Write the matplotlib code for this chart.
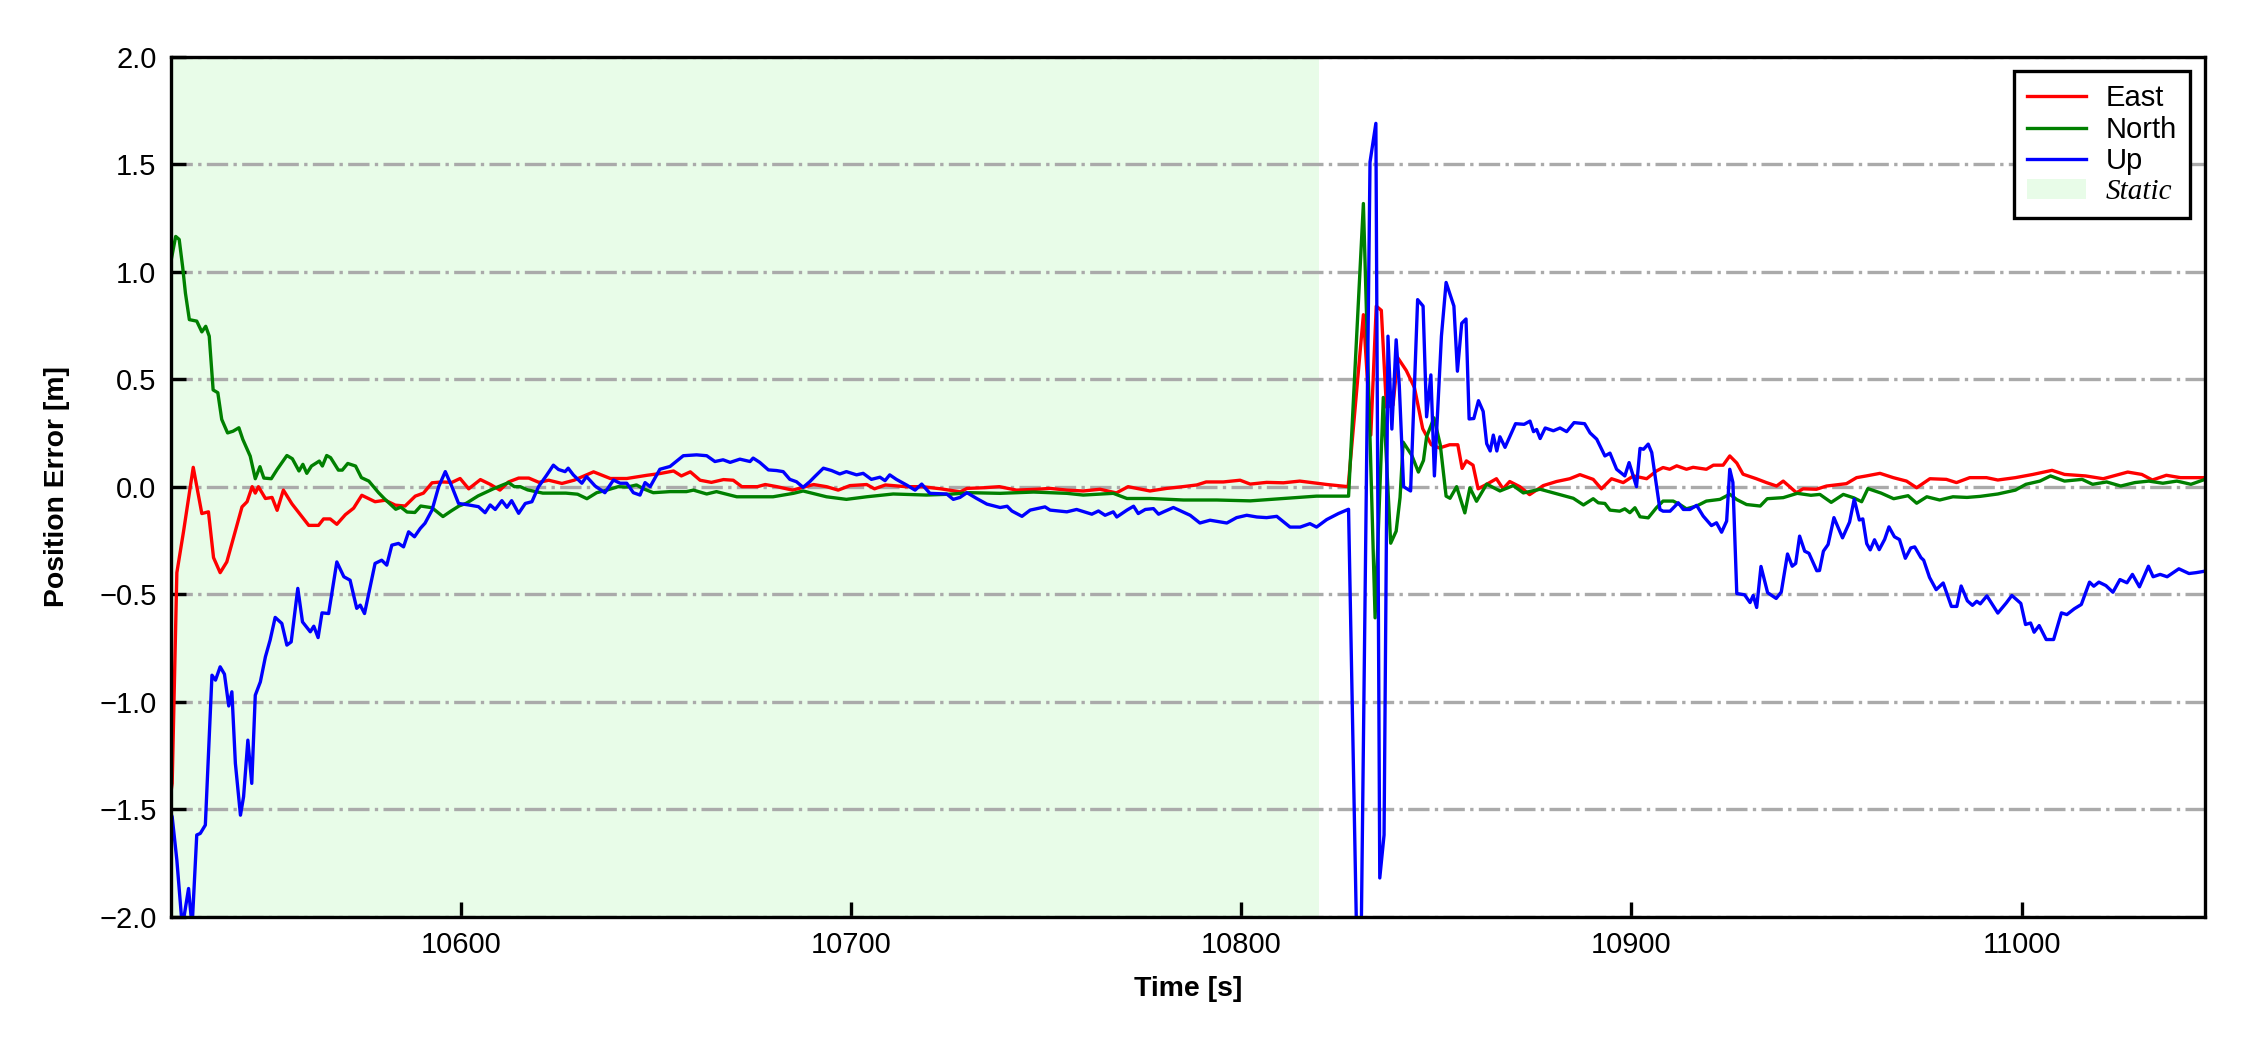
import numpy as np
import matplotlib
matplotlib.use('Agg')
import matplotlib.pyplot as plt
from matplotlib.patches import Patch

plt.rcParams['font.family'] = ['Liberation Sans', 'DejaVu Sans']
plt.rcParams['font.size'] = 7

# ---- data (time [s], error [m]) ----
east_t = [10525.7, 10526.0, 10527.2, 10528.9, 10531.4, 10533.6, 10535.3, 10536.6, 10538.3, 10540.0,
          10543.9, 10545.2, 10546.5, 10547.3, 10548.1, 10549.9, 10551.6, 10552.9, 10554.5, 10556.7,
          10559.3, 10561.0, 10563.5, 10564.8, 10566.5, 10568.2, 10570.4, 10572.5, 10574.6, 10578.0,
          10580.6, 10583.2, 10585.7, 10588.3, 10590.4, 10592.6, 10595.1, 10597.7, 10599.8, 10602.0,
          10605.0, 10607.6, 10610.0, 10612.2, 10614.8, 10617.4, 10620.0, 10622.5, 10625.9, 10629.0,
          10634.0, 10638.3, 10642.5, 10647.7, 10651.0, 10654.5, 10656.5, 10658.8, 10661.3, 10664.2,
          10667.3, 10669.8, 10672.0, 10676.0, 10678.0, 10681.0, 10685.0, 10690.4, 10693.7, 10696.7,
          10699.7, 10704.0, 10706.0, 10708.8, 10714.0, 10718.2, 10723.0, 10728.0, 10729.7, 10734.0,
          10738.0, 10742.4, 10747.6, 10751.0, 10755.3, 10759.5, 10763.8, 10768.0, 10771.0, 10776.6,
          10780.9, 10785.0, 10788.6, 10791.0, 10795.4, 10799.7, 10802.3, 10806.5, 10810.8, 10815.0,
          10822.0, 10827.4, 10831.3, 10833.2, 10834.6, 10835.9, 10837.2, 10838.9, 10840.1, 10842.3,
          10844.4, 10846.5, 10848.7, 10850.8, 10853.4, 10855.5, 10856.6, 10857.7, 10859.4, 10860.7,
          10862.8, 10865.4, 10867.1, 10868.8, 10871.4, 10873.9, 10877.4, 10880.8, 10884.2, 10886.8,
          10890.2, 10892.3, 10894.9, 10897.9, 10900.5, 10903.9, 10906.4, 10908.1, 10909.8, 10911.6,
          10914.1, 10915.8, 10919.2, 10921.0, 10923.5, 10925.2, 10927.0, 10928.6, 10932.0, 10934.6,
          10937.2, 10938.9, 10942.3, 10944.0, 10947.4, 10950.0, 10955.1, 10957.7, 10960.2, 10963.7,
          10967.1, 10970.5, 10973.1, 10976.5, 10980.7, 10983.3, 10986.7, 10991.0, 10993.9, 10998.4,
          11002.9, 11007.8, 11011.0, 11016.4, 11020.9, 11027.2, 11030.8, 11033.5, 11037.1, 11040.7,
          11047.0]
east_v = [-1.42, -1.38, -0.40, -0.21, 0.09, -0.125, -0.117, -0.33, -0.40, -0.35,
          -0.094, -0.07, 0.0, -0.03, 0.0, -0.055, -0.05, -0.11, -0.016, -0.08,
          -0.14, -0.18, -0.18, -0.15, -0.15, -0.175, -0.13, -0.10, -0.04, -0.07,
          -0.063, -0.086, -0.09, -0.044, -0.03, 0.018, 0.022, 0.02, 0.038, -0.01,
          0.033, 0.01, -0.016, 0.022, 0.04, 0.04, 0.02, 0.03, 0.015, 0.03,
          0.069, 0.038, 0.038, 0.053, 0.061, 0.073, 0.05, 0.069, 0.03, 0.02,
          0.033, 0.03, 0.0, 0.0, 0.01, 0.0, -0.016, 0.01, 0.0, -0.016,
          0.005, 0.01, -0.01, 0.008, 0.0, 0.0, -0.01, -0.024, -0.008, -0.005,
          0.0, -0.016, -0.012, -0.008, -0.016, -0.02, -0.012, -0.029, 0.0, -0.02,
          -0.008, 0.0, 0.008, 0.022, 0.022, 0.03, 0.012, 0.02, 0.018, 0.026,
          0.01, 0.0, 0.80, 0.24, 0.84, 0.82, 0.37, 0.38, 0.60, 0.54,
          0.46, 0.27, 0.195, 0.18, 0.195, 0.195, 0.085, 0.12, 0.10, -0.01,
          0.01, 0.037, -0.01, 0.024, 0.0, -0.037, 0.005, 0.024, 0.037, 0.056,
          0.034, -0.01, 0.037, 0.019, 0.05, 0.037, 0.073, 0.089, 0.081, 0.097,
          0.081, 0.09, 0.081, 0.10, 0.10, 0.143, 0.11, 0.058, 0.037, 0.019,
          0.003, 0.026, -0.028, -0.01, -0.012, 0.003, 0.014, 0.042, 0.05, 0.062,
          0.042, 0.026, -0.005, 0.037, 0.034, 0.019, 0.042, 0.042, 0.031, 0.042,
          0.057, 0.076, 0.057, 0.05, 0.037, 0.068, 0.057, 0.031, 0.053, 0.042,
          0.042]

north_t = [10525.7, 10526.9, 10527.8, 10528.7, 10529.4, 10530.4, 10532.3, 10533.6, 10534.6, 10535.5,
           10536.5, 10537.7, 10538.7, 10540.2, 10541.6, 10543.1, 10544.1, 10546.0, 10547.3, 10548.5,
           10549.5, 10551.4, 10552.9, 10555.4, 10556.8, 10558.5, 10559.5, 10560.5, 10561.7, 10563.7,
           10564.5, 10565.6, 10566.6, 10568.6, 10569.6, 10571.0, 10573.0, 10574.5, 10576.4, 10578.9,
           10580.4, 10583.3, 10584.6, 10586.2, 10588.2, 10589.7, 10592.6, 10595.4, 10597.5, 10599.5,
           10601.4, 10604.4, 10608.3, 10612.2, 10613.7, 10615.2, 10617.1, 10621.0, 10626.9, 10629.9,
           10632.3, 10634.8, 10637.4, 10640.3, 10642.6, 10645.0, 10646.8, 10649.3, 10653.6, 10657.8,
           10659.6, 10663.0, 10665.5, 10670.7, 10676.6, 10680.0, 10685.2, 10687.7, 10693.7, 10698.8,
           10704.0, 10710.8, 10719.3, 10725.4, 10730.5, 10738.2, 10746.8, 10755.3, 10759.5, 10767.2,
           10770.7, 10776.6, 10785.2, 10793.7, 10802.3, 10810.8, 10819.3, 10827.5, 10831.3, 10834.3,
           10836.4, 10838.3, 10839.7, 10840.7, 10841.5, 10843.7, 10845.4, 10846.7, 10847.5, 10849.4,
           10851.0, 10852.5, 10853.5, 10855.2, 10857.3, 10858.6, 10860.3, 10862.9, 10866.3, 10869.7,
           10872.3, 10876.6, 10881.7, 10885.1, 10887.7, 10890.2, 10891.5, 10893.2, 10894.5, 10897.0,
           10898.3, 10899.6, 10900.9, 10902.2, 10904.3, 10906.4, 10908.1, 10910.7, 10912.4, 10914.1,
           10916.7, 10919.2, 10922.7, 10925.2, 10927.0, 10929.5, 10933.0, 10934.8, 10938.9, 10942.5,
           10944.0, 10946.0, 10948.3, 10951.2, 10954.3, 10957.0, 10959.0, 10960.6, 10964.0, 10967.2,
           10970.9, 10973.1, 10975.7, 10979.0, 10982.4, 10986.0, 10989.4, 10993.9, 10998.4, 11001.1,
           11004.7, 11007.4, 11011.0, 11015.5, 11018.2, 11021.8, 11025.4, 11029.0, 11032.6, 11036.2,
           11039.8, 11043.4, 11047.0]
north_v = [1.05, 1.164, 1.15, 1.02, 0.90, 0.777, 0.77, 0.72, 0.746, 0.70,
           0.45, 0.437, 0.313, 0.25, 0.258, 0.274, 0.22, 0.142, 0.037, 0.093,
           0.04, 0.037, 0.08, 0.145, 0.13, 0.073, 0.104, 0.062, 0.096, 0.119,
           0.096, 0.145, 0.135, 0.077, 0.077, 0.108, 0.096, 0.042, 0.026, -0.028,
           -0.056, -0.105, -0.095, -0.118, -0.12, -0.09, -0.098, -0.139, -0.113, -0.09,
           -0.077, -0.043, -0.01, 0.019, 0.0, 0.0, -0.015, -0.03, -0.03, -0.035,
           -0.056, -0.028, -0.016, 0.0, -0.002, 0.008, -0.01, -0.028, -0.023, -0.023,
           -0.016, -0.034, -0.023, -0.047, -0.047, -0.047, -0.031, -0.02, -0.047, -0.059,
           -0.047, -0.034, -0.039, -0.035, -0.028, -0.031, -0.025, -0.031, -0.039, -0.031,
           -0.055, -0.055, -0.062, -0.062, -0.066, -0.055, -0.044, -0.044, 1.317, -0.61,
           0.415, -0.263, -0.207, -0.05, 0.207, 0.146, 0.068, 0.122, 0.232, 0.32,
           0.195, -0.044, -0.054, 0.0, -0.122, -0.005, -0.068, 0.012, -0.02, 0.005,
           -0.029, -0.012, -0.037, -0.054, -0.085, -0.056, -0.075, -0.078, -0.109, -0.114,
           -0.103, -0.121, -0.098, -0.14, -0.145, -0.098, -0.067, -0.067, -0.083, -0.103,
           -0.09, -0.067, -0.059, -0.035, -0.06, -0.083, -0.09, -0.056, -0.051, -0.031,
           -0.035, -0.04, -0.036, -0.073, -0.036, -0.052, -0.07, -0.009, -0.03, -0.056,
           -0.042, -0.077, -0.047, -0.062, -0.047, -0.05, -0.045, -0.034, -0.016, 0.011,
           0.026, 0.05, 0.026, 0.034, 0.011, 0.022, 0.003, 0.019, 0.026, 0.016,
           0.026, 0.011, 0.034]

up_t = [10525.7, 10526.0, 10527.2, 10528.6, 10530.2, 10531.1, 10532.3, 10533.2, 10534.5, 10536.2,
        10537.1, 10538.3, 10539.4, 10540.5, 10541.3, 10542.2, 10543.5, 10544.3, 10545.4, 10546.4,
        10547.3, 10548.6, 10549.9, 10551.1, 10552.4, 10554.1, 10555.4, 10556.5, 10558.2, 10559.4,
        10561.4, 10562.3, 10563.4, 10564.4, 10566.1, 10568.2, 10570.0, 10571.6, 10573.3, 10574.2,
        10575.3, 10578.0, 10579.7, 10581.0, 10582.3, 10584.0, 10585.3, 10586.6, 10588.1, 10589.6,
        10590.8, 10592.6, 10594.3, 10596.0, 10597.7, 10599.4, 10602.0, 10604.5, 10606.2, 10607.5,
        10608.8, 10610.5, 10611.8, 10613.0, 10614.8, 10616.5, 10618.2, 10619.9, 10622.0, 10623.7,
        10625.0, 10626.7, 10627.5, 10628.8, 10631.0, 10632.2, 10634.4, 10636.9, 10639.1, 10640.8,
        10642.5, 10644.2, 10645.9, 10647.2, 10648.5, 10651.0, 10653.6, 10657.0, 10660.4, 10663.0,
        10665.1, 10667.2, 10669.0, 10671.5, 10674.1, 10674.9, 10676.6, 10678.8, 10680.9, 10682.6,
        10684.3, 10686.0, 10687.7, 10689.4, 10690.7, 10692.9, 10695.0, 10697.1, 10698.8, 10701.4,
        10703.1, 10705.2, 10707.4, 10708.7, 10709.9, 10711.6, 10714.2, 10716.4, 10718.1, 10720.2,
        10724.5, 10726.2, 10727.9, 10729.7, 10732.2, 10734.8, 10738.2, 10740.0, 10741.2, 10743.8,
        10745.9, 10749.7, 10751.0, 10755.3, 10757.8, 10761.7, 10763.4, 10765.1, 10767.2, 10768.1,
        10770.7, 10772.4, 10773.6, 10775.4, 10777.5, 10778.8, 10780.1, 10782.6, 10786.9, 10789.4,
        10792.0, 10796.3, 10798.8, 10801.4, 10804.0, 10806.5, 10809.1, 10812.5, 10815.1, 10817.6,
        10819.3, 10821.9, 10824.9, 10827.5, 10830.3, 10833.0, 10834.5, 10835.5, 10836.6, 10837.6,
        10838.6, 10839.7, 10840.5, 10841.6, 10843.4, 10845.2, 10846.6, 10847.5, 10848.6, 10849.5,
        10851.3, 10852.5, 10854.5, 10855.4, 10856.5, 10857.6, 10858.4, 10859.6, 10860.8, 10862.0,
        10862.9, 10863.8, 10864.6, 10865.5, 10866.3, 10867.6, 10870.3, 10872.5, 10874.0, 10874.9,
        10875.7, 10876.6, 10877.9, 10880.0, 10881.7, 10883.4, 10885.3, 10888.0, 10889.4, 10891.1,
        10893.2, 10894.5, 10896.2, 10898.3, 10899.4, 10901.3, 10902.2, 10903.1, 10904.3, 10905.2,
        10907.3, 10908.1, 10909.9, 10912.0, 10913.3, 10915.0, 10916.7, 10918.4, 10920.5, 10921.8,
        10923.1, 10924.4, 10925.2, 10926.0, 10927.0, 10929.0, 10930.4, 10931.2, 10932.1, 10933.2,
        10934.9, 10937.1, 10938.4, 10940.0, 10941.2, 10942.1, 10943.1, 10944.4, 10945.5, 10947.5,
        10948.2, 10949.2, 10950.4, 10951.9, 10954.1, 10955.9, 10957.1, 10958.4, 10959.3, 10960.3,
        10961.2, 10962.3, 10963.5, 10964.9, 10966.0, 10967.4, 10968.7, 10970.2, 10971.6, 10972.6,
        10974.2, 10974.9, 10976.4, 10978.1, 10979.9, 10982.0, 10983.4, 10984.5, 10986.1, 10987.4,
        10988.5, 10989.4, 10991.1, 10993.9, 10996.1, 10997.5, 10999.8, 11001.0, 11002.3, 11003.2,
        11004.5, 11006.3, 11008.2, 11010.2, 11011.6, 11013.5, 11015.3, 11017.4, 11018.5, 11019.8,
        11021.6, 11023.4, 11025.2, 11027.0, 11028.4, 11030.2, 11032.5, 11033.7, 11035.5, 11037.3,
        11040.3, 11042.9, 11044.7, 11047.0]
up_v = [-1.52, -1.536, -1.737, -2.05, -1.869, -2.05, -1.62, -1.613, -1.574, -0.877,
        -0.90, -0.838, -0.872, -1.02, -0.954, -1.287, -1.528, -1.442, -1.179, -1.38,
        -0.97, -0.908, -0.791, -0.714, -0.608, -0.636, -0.737, -0.722, -0.473, -0.629,
        -0.675, -0.649, -0.702, -0.587, -0.59, -0.35, -0.419, -0.435, -0.566, -0.551,
        -0.59, -0.357, -0.342, -0.365, -0.272, -0.264, -0.28, -0.21, -0.233, -0.194,
        -0.17, -0.109, 0.0, 0.07, 0.0, -0.078, -0.085, -0.093, -0.121, -0.085,
        -0.106, -0.065, -0.096, -0.065, -0.124, -0.078, -0.07, 0.0, 0.054, 0.10,
        0.08, 0.07, 0.086, 0.055, 0.016, 0.047, 0.003, -0.028, 0.031, 0.016,
        0.016, -0.028, -0.039, 0.019, 0.0, 0.081, 0.094, 0.144, 0.148, 0.144,
        0.117, 0.125, 0.113, 0.128, 0.117, 0.133, 0.113, 0.078, 0.075, 0.07,
        0.034, 0.023, -0.003, 0.023, 0.047, 0.086, 0.075, 0.059, 0.07, 0.055,
        0.062, 0.034, 0.044, 0.028, 0.055, 0.034, 0.008, -0.016, 0.012, -0.031,
        -0.034, -0.059, -0.05, -0.028, -0.055, -0.081, -0.097, -0.091, -0.113, -0.138,
        -0.109, -0.094, -0.109, -0.117, -0.106, -0.128, -0.113, -0.133, -0.117, -0.141,
        -0.109, -0.091, -0.125, -0.106, -0.102, -0.128, -0.117, -0.097, -0.133, -0.169,
        -0.156, -0.169, -0.144, -0.133, -0.141, -0.144, -0.138, -0.188, -0.188, -0.172,
        -0.188, -0.153, -0.125, -0.105, -2.8, 1.51, 1.69, -1.82, -1.62, 0.70,
        0.268, 0.683, 0.47, 0.0, -0.02, 0.87, 0.84, 0.325, 0.52, 0.05,
        0.70, 0.95, 0.84, 0.537, 0.76, 0.78, 0.315, 0.317, 0.40, 0.35,
        0.20, 0.166, 0.24, 0.166, 0.232, 0.183, 0.293, 0.29, 0.305, 0.256,
        0.266, 0.224, 0.273, 0.26, 0.273, 0.256, 0.298, 0.293, 0.25, 0.221,
        0.143, 0.156, 0.081, 0.05, 0.112, 0.0, 0.178, 0.174, 0.198, 0.159,
        -0.106, -0.114, -0.114, -0.075, -0.106, -0.106, -0.087, -0.137, -0.181, -0.168,
        -0.212, -0.16, 0.081, 0.02, -0.497, -0.503, -0.539, -0.506, -0.562, -0.371,
        -0.493, -0.52, -0.49, -0.313, -0.37, -0.357, -0.23, -0.30, -0.31, -0.391,
        -0.39, -0.30, -0.269, -0.144, -0.238, -0.165, -0.058, -0.155, -0.15, -0.265,
        -0.294, -0.247, -0.293, -0.245, -0.187, -0.233, -0.246, -0.333, -0.285, -0.28,
        -0.33, -0.342, -0.422, -0.479, -0.448, -0.557, -0.557, -0.462, -0.531, -0.552,
        -0.533, -0.545, -0.508, -0.588, -0.54, -0.506, -0.543, -0.641, -0.634, -0.677,
        -0.646, -0.711, -0.711, -0.587, -0.595, -0.568, -0.548, -0.444, -0.463, -0.444,
        -0.46, -0.491, -0.432, -0.447, -0.408, -0.466, -0.37, -0.419, -0.408, -0.419,
        -0.382, -0.404, -0.40, -0.393]

static_end = 10820.0

fig = plt.figure(figsize=(7.5, 3.5), dpi=300)
ax = fig.add_axes([0.076, 0.127, 0.904, 0.819])

ax.axvspan(east_t[0], static_end, color='#e8fce8', lw=0, zorder=0)
l1, = ax.plot(east_t, east_v, color='r', lw=0.8, label='East')
l2, = ax.plot(north_t, north_v, color='g', lw=0.8, label='North')
l3, = ax.plot(up_t, up_v, color='b', lw=0.8, label='Up')

ax.set_xlim(east_t[0], east_t[-1])
ax.set_ylim(-2, 2)
ax.set_yticks(np.arange(-2, 2.01, 0.5))
ax.yaxis.grid(True, linestyle='-.', color='#aaaaaa', lw=0.8)
ax.set_axisbelow(True)

ax.tick_params(direction='in', length=3.5, width=0.8, labelsize=7, top=False, right=False)
for s in ax.spines.values():
    s.set_linewidth(0.8)

ax.set_xlabel('Time [s]', fontweight='bold', fontsize=6.8)
ax.set_ylabel('Position Error [m]', fontweight='bold', fontsize=6.8, labelpad=7)

static_patch = Patch(facecolor='#e8fce8', edgecolor='none', label='Static')
leg = ax.legend(handles=[l1, l2, l3, static_patch], loc='upper right', fontsize=7,
                fancybox=False, framealpha=1, edgecolor='black', labelspacing=0.12,
                borderpad=0.45, handlelength=2.0, handletextpad=0.7)
leg.get_frame().set_linewidth(0.8)
leg.get_texts()[3].set_fontfamily('Liberation Serif')
leg.get_texts()[3].set_fontstyle('italic')

fig.savefig('out.png', dpi=300)
